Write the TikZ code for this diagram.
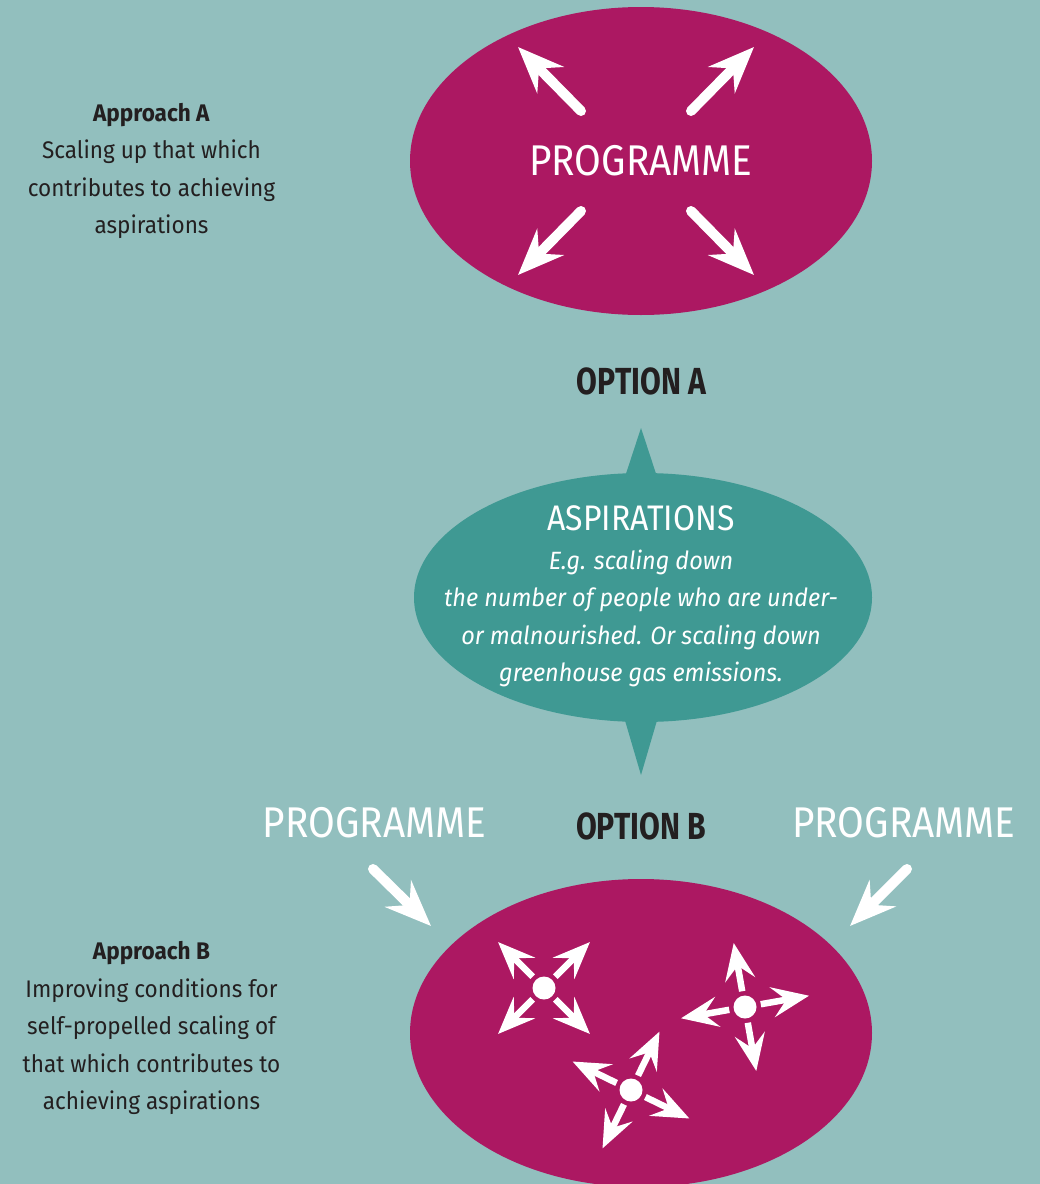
\documentclass[tikz,border=0pt]{standalone}
\usepackage{fontspec}
\setmainfont{Fira Sans}
\newfontfamily\condfont[FakeStretch=0.9]{Fira Sans}
\newfontfamily\aspfont[FakeStretch=0.94]{Fira Sans}
\newfontfamily\optfont[FakeStretch=0.8]{Fira Sans}
\newfontfamily\notefont[FakeStretch=0.94]{Fira Sans}
\usetikzlibrary{shapes.geometric,arrows.meta}

\definecolor{bgteal}{HTML}{92BFBE}
\definecolor{plum}{HTML}{AC1862}
\definecolor{aspteal}{HTML}{3F9993}
\definecolor{ink}{HTML}{231F20}

\tikzset{
	blob/.style={ellipse, fill=plum, inner sep=0pt, minimum width=462pt, minimum height=308pt},
	bigarr/.style={white, line width=10pt, line cap=round, -{Stealth[length=46pt,width=37pt,inset=16pt]}},
	smallarr/.style={white, line width=6.5pt, -{Stealth[length=37pt,width=30pt,inset=14pt]}},
	hub/.style={circle, fill=white, inner sep=0pt, minimum size=23pt},
	prog/.style={text=white, font=\condfont\fontsize{43}{43}\selectfont},
	option/.style={text=ink, font=\optfont\bfseries\fontsize{37.7}{37.7}\selectfont},
	approach/.style={text=ink, align=center, font=\notefont\fontsize{24}{37.5}\selectfont}
}

\begin{document}
\begin{tikzpicture}[x=1pt,y=-1pt]
	\useasboundingbox (0,0) rectangle (1040,1184);
	\fill[bgteal] (0,0) rectangle (1040,1184);

	% option A
	\node[blob, prog] (progA) at (641,161) {PROGRAMME};
	\foreach \dx/\dy in {-1/-1,1/-1,-1/1,1/1}
		\draw[bigarr] ([shift={(\dx*55-5,\dy*50)}]progA.center) -- ([shift={(\dx*118-5,\dy*114)}]progA.center);
	\node[option] (optA) at (641.5,381) {OPTION A};

	% aspirations
	\fill[aspteal] (641,428) -- (619,495) -- (663,495) -- cycle;
	\fill[aspteal] (641,775) -- (619,700) -- (663,700) -- cycle;
	\node[ellipse, fill=aspteal, inner sep=0pt, minimum width=458pt, minimum height=249pt] (aspir) at (643,597.5) {};
	\node[text=white, font=\condfont\fontsize{35.5}{35.5}\selectfont] (aspTitle) at (641,518) {ASPIRATIONS};
	\node[text=white, align=center, font=\aspfont\itshape\fontsize{25}{37.5}\selectfont] (aspText) at (641,618.5)
		{E.g. scaling down\\the number of people who are under-\\or malnourished. Or scaling down\\greenhouse gas emissions.};

	% option B
	\node[option] (optB) at (641,826.5) {OPTION B};
	\node[prog] (progL) at (374.5,822.5) {PROGRAMME};
	\node[prog] (progR) at (904,822.5) {PROGRAMME};
	\node[blob] (progB) at (641,1033) {};
	\coordinate (inL) at (373,869);
	\coordinate (inLend) at (431,926);
	\coordinate (inR) at (907,869);
	\coordinate (inRend) at (850,926);
	\draw[bigarr] (inL) -- (inLend);
	\draw[bigarr] (inR) -- (inRend);
	\foreach \name/\px/\py/\rot in {s1/544/988/45, s2/745/1007/-10, s3/631/1090/-64} {
		\node[hub] (\name) at (\px,\py) {};
		\foreach \a in {0,90,180,270}
			\draw[smallarr] ([shift={({\a+\rot}:16)}]\name.center) -- ([shift={({\a+\rot}:65)}]\name.center);
	}

	% approaches
	\node[approach] (apprA) at (151.5,171)
		{\textbf{Approach A}\\Scaling up that which\\contributes to achieving\\aspirations};
	\node[approach] (apprB) at (151.5,1028)
		{\textbf{Approach B}\\Improving conditions for\\self-propelled scaling of\\that which contributes to\\achieving aspirations};
\end{tikzpicture}
\end{document}
